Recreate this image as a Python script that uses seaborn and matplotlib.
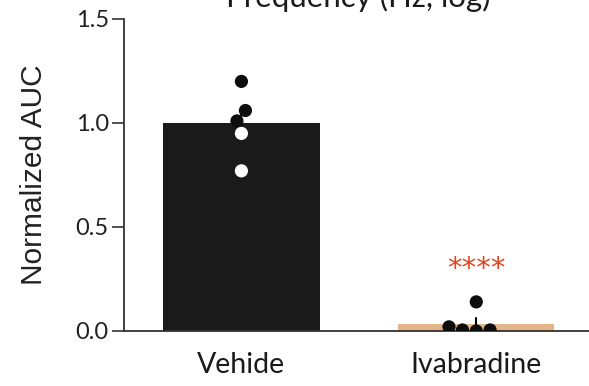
import matplotlib
matplotlib.use("Agg")
import matplotlib.pyplot as plt
import seaborn as sns
import pandas as pd

# ---- data ----
groups = ["Vehide", "Ivabradine"]
vehicle_values = [1.20, 1.06, 1.01, 0.95, 0.77]
vehicle_fill = ["black", "black", "black", "white", "white"]
ivabradine_values = [0.14, 0.005, 0.0, 0.005, 0.02]
ivabradine_fill = ["black", "black", "black", "black", "black"]
bar_colors = ["#1a1a1a", "#f2b57a"]
y_ticks = [0.0, 0.5, 1.0, 1.5]
y_tick_labels = ["0.0", "0.5", "1.0", "1.5"]
significance = "****"
title = "Frequency (Hz, log)"

df = pd.DataFrame({
    "group": [groups[0]] * len(vehicle_values) + [groups[1]] * len(ivabradine_values),
    "value": vehicle_values + ivabradine_values,
    "fill": vehicle_fill + ivabradine_fill,
})

sns.set_theme(style="ticks")
plt.rcParams["font.family"] = ["Lato", "DejaVu Sans"]

fig = plt.figure(figsize=(5.89, 3.86), dpi=100)
ax = fig.add_axes([0.2105, 0.1425, 0.7895, 0.8083])

sns.barplot(data=df, x="group", y="value", hue="group", palette=bar_colors,
            order=groups, hue_order=groups, errorbar="se", width=0.665,
            err_kws={"color": "black", "linewidth": 1.5}, capsize=0,
            legend=False, ax=ax, zorder=2)
for p in ax.patches:
    p.set_edgecolor("none")

sns.swarmplot(data=df, x="group", y="value", hue="fill", order=groups,
              palette={"black": "#0d0d0d", "white": "white"}, size=9.5,
              linewidth=0, legend=False, ax=ax, zorder=4)

ax.set_xlim(-0.5, 1.48)
ax.set_ylim(0, 1.5)
ax.set_yticks(y_ticks)
ax.set_yticklabels(y_tick_labels, fontsize=17, color="#222222")
ax.tick_params(axis="y", length=9, width=1.2, color="#333333", pad=2)
ax.tick_params(axis="x", length=0, pad=15, labelsize=20.5, labelcolor="#1a1a1a")
ax.set_xlabel("")
ax.set_ylabel("Normalized AUC", fontsize=21.5, family=["Liberation Sans", "DejaVu Sans"],
              color="#222222", labelpad=20)
for s in ["top", "right"]:
    ax.spines[s].set_visible(False)
for s in ["left", "bottom"]:
    ax.spines[s].set_color("#333333")
    ax.spines[s].set_linewidth(1.3)

ax.text(1, 0.30, significance, ha="center", va="center", color="#e3441e",
        fontsize=21, family=["DejaVu Sans"])

fig.text(0.608, 1 - 7 / 386, title, ha="center", va="baseline", fontsize=22.5, color="#1a1a1a")

fig.savefig("out.png", dpi=100)
